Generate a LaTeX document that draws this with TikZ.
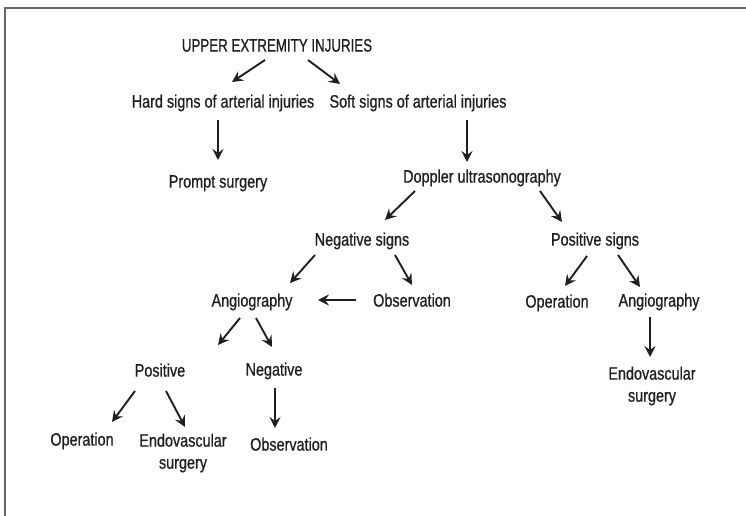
\documentclass[tikz,border=0pt]{standalone}
\usepackage{fontspec}
\setmainfont[FakeStretch=0.8, FakeBold=0.8]{Liberation Sans}
\usepackage{tikz}
\usetikzlibrary{arrows.meta}

\begin{document}
\begin{tikzpicture}[
  x=1pt, y=-1pt,
  font=\fontsize{18}{22}\selectfont,
  lbl/.style={text=black!88, inner sep=2pt, text height=13pt, text depth=3.8pt, align=center},
  lbl2/.style={text=black!88, inner sep=2pt, align=center},
  arr/.style={draw=black!88, line width=1.9pt,
    -{Stealth[length=11pt, width=11pt, inset=4pt]}},
  frameline/.style={draw=black!60, line width=2pt}
]
\useasboundingbox (0,0) rectangle (746,516);
\draw[frameline] (5,516) -- (5,8) -- (746,8);

% ============ TOP ============
\node[lbl, font=\fontsize{18}{22}\selectfont\addfontfeatures{FakeStretch=0.74, FakeBold=0.8}]
  (title) at (277,47) {UPPER EXTREMITY INJURIES};
\node[lbl] (hard)     at (223,103) {Hard signs of arterial injuries};
\node[lbl] (soft)     at (418,103) {Soft signs of arterial injuries};
\node[lbl] (prompt)   at (218,183) {Prompt surgery};
\node[lbl] (doppler)  at (482,178) {Doppler ultrasonography};

% ============ SIGNS ============
\node[lbl] (negsigns) at (362,241) {Negative signs};
\node[lbl] (possigns) at (595,241) {Positive signs};
\node[lbl] (angioA)   at (252,302) {Angiography};
\node[lbl] (obsA)     at (412,302) {Observation};
\node[lbl] (operA)    at (557,303) {Operation};
\node[lbl] (angioB)   at (659,302) {Angiography};
\node[lbl2] (endoB)   at (652,386) {Endovascular\\surgery};

% ============ ANGIOGRAPHY RESULT ============
\node[lbl] (pos)      at (160,372) {Positive};
\node[lbl] (neg)      at (274,371) {Negative};
\node[lbl] (operB)    at (82,441)  {Operation};
\node[lbl2] (endoA)   at (183,453) {Endovascular\\surgery};
\node[lbl] (obsB)     at (289,446) {Observation};

% ============ ARROWS ============
\draw[arr] ([shift={(-12,13)}]title.center)   -- ([shift={(9,-21)}]hard.center);
\draw[arr] ([shift={(31,13)}]title.center)    -- ([shift={(-78,-19)}]soft.center);
\draw[arr] ([shift={(-5,17)}]hard.center)     -- ([shift={(0,-23)}]prompt.center);
\draw[arr] ([shift={(49,17)}]soft.center)     -- ([shift={(-15,-16)}]doppler.center);
\draw[arr] ([shift={(-67,13)}]doppler.center) -- ([shift={(23,-21)}]negsigns.center);
\draw[arr] ([shift={(58,13)}]doppler.center)  -- ([shift={(-33,-19)}]possigns.center);
\draw[arr] ([shift={(-47,14)}]negsigns.center) -- ([shift={(38,-19)}]angioA.center);
\draw[arr] ([shift={(33,14)}]negsigns.center) -- ([shift={(0,-17)}]obsA.center);
\draw[arr] ([shift={(-56,-2)}]obsA.center)    -- ([shift={(66,-2)}]angioA.center);
\draw[arr] ([shift={(-8,15)}]possigns.center) -- ([shift={(8,-17)}]operA.center);
\draw[arr] ([shift={(23,14)}]possigns.center) -- ([shift={(-19,-15)}]angioB.center);
\draw[arr] ([shift={(-9,15)}]angioB.center)   -- ([shift={(-2,-29)}]endoB.center);
\draw[arr] ([shift={(-12,16)}]angioA.center)  -- ([shift={(58,-27)}]pos.center);
\draw[arr] ([shift={(4,16)}]angioA.center)    -- ([shift={(-2,-24)}]neg.center);
\draw[arr] ([shift={(-25,19)}]pos.center)     -- ([shift={(30,-19)}]operB.center);
\draw[arr] ([shift={(6,19)}]pos.center)       -- ([shift={(2,-26)}]endoA.center);
\draw[arr] ([shift={(1,17)}]neg.center)       -- ([shift={(-14,-18)}]obsB.center);
\end{tikzpicture}
\end{document}
